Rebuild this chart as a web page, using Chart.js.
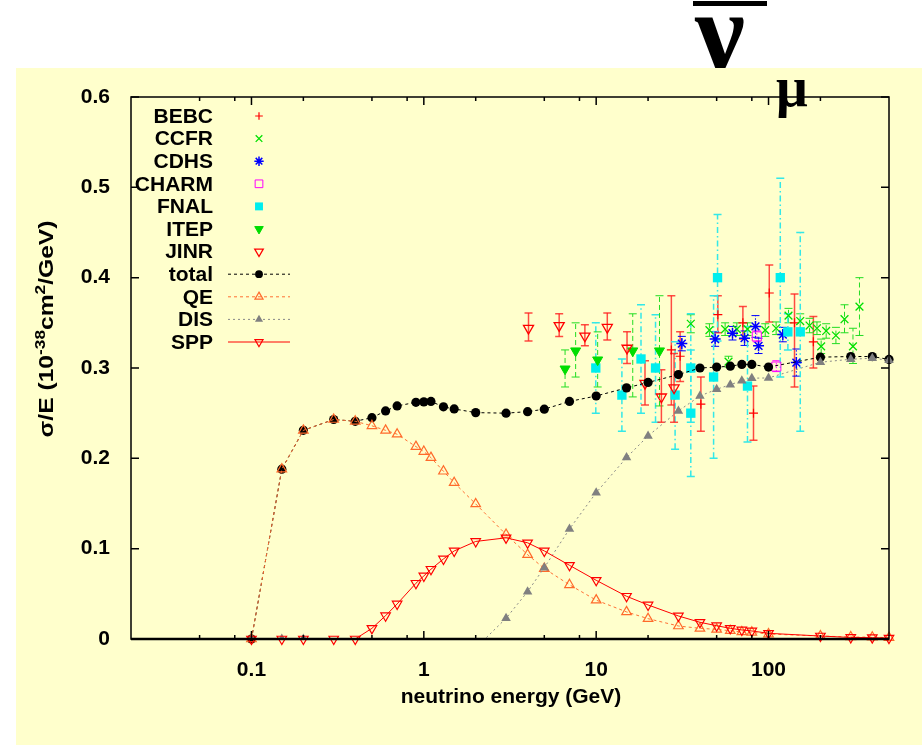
<!DOCTYPE html>
<html><head><meta charset="utf-8">
<script src="https://cdn.jsdelivr.net/npm/chart.js@4/dist/chart.umd.min.js"></script>
<style>html,body{margin:0;padding:0;background:#fff;overflow:hidden}#wrap{width:922px;height:745px}</style>
</head><body><div id="wrap"><canvas id="c" width="922" height="745"></canvas></div>
<script>
// ---------- model curves (sigma/E, 1e-38 cm^2/GeV) ----------
const energyGrid = [0.1,0.15,0.2,0.3,0.4,0.5,0.6,0.7,0.9,1.0,1.1,1.3,1.5,2,3,4,5,7,10,15,20,30,40,50,60,70,80,100,200,300,400,500];
const totalXS = [0,0.188,0.231,0.243,0.241,0.245,0.2525,0.258,0.262,0.2625,0.263,0.257,0.2547,0.2506,0.250,0.2517,0.2544,0.263,0.269,0.278,0.284,0.2927,0.300,0.301,0.302,0.304,0.304,0.301,0.312,0.3127,0.3127,0.3095];
const qeXS = [0,0.188,0.231,0.243,0.241,0.236,0.231,0.2267,0.213,0.2075,0.2008,0.1857,0.173,0.1495,0.1157,0.0934,0.078,0.060,0.043,0.030,0.0225,0.0144,0.0118,0.0107,0.0092,0.0078,0.0074,0.0055,0.0033,0.0022,0.0020,0.0015];
const disXS = [0,0,0,null,null,null,null,null,null,null,null,null,null,-0.01,0.0229,0.0524,0.079,0.1218,0.162,0.2008,0.2248,0.2525,0.269,0.2765,0.2815,0.286,0.2887,0.289,0.3064,0.3097,0.3108,0.3086];
const sppXS = [0,0,0,0,0,0.0118,0.0258,0.0388,0.0617,0.0698,0.0772,0.0886,0.0975,0.108,0.112,0.1065,0.0975,0.0816,0.065,0.0473,0.0377,0.0255,0.0185,0.0147,0.0118,0.0100,0.0089,0.0063,0.0033,0.0017,0.0015,0.0010];

// ---------- experiments: energy, value, error-bar low, error-bar high ----------
const bebcE  = [27.3,30.7,40.5,50.8,71,81.8,101,141.5,182];
const bebcV  = [0.320,0.313,0.260,0.359,0.350,0.250,0.383,0.350,0.329];
const bebcLo = [0.259,0.285,0.230,0.339,0.332,0.220,0.351,0.279,0.300];
const bebcHi = [0.380,0.340,0.290,0.380,0.368,0.280,0.414,0.382,0.357];

const ccfrE  = [35.4,45.4,56,58.6,65.5,75.5,95.7,110.7,130.6,152.7,173,191,202,216,246,276,309,337];
const ccfrV  = [0.349,0.342,0.343,0.307,0.343,0.343,0.342,0.344,0.358,0.352,0.347,0.344,0.324,0.341,0.336,0.354,0.324,0.368];
const ccfrLo = [0.339,0.335,0.336,0.301,0.336,0.336,0.335,0.337,0.350,0.344,0.339,0.337,0.316,0.333,0.327,0.339,0.305,0.336];
const ccfrHi = [0.359,0.349,0.350,0.313,0.350,0.350,0.349,0.351,0.366,0.360,0.355,0.351,0.332,0.349,0.345,0.370,0.344,0.400];

const cdhsE  = [31.4,49,61.8,72.6,84,87.5,121,145];
const cdhsV  = [0.327,0.332,0.3385,0.333,0.346,0.3245,0.337,0.306];
const cdhsLo = [0.319,0.324,0.331,0.325,0.334,0.316,0.329,0.291];
const cdhsHi = [0.335,0.340,0.346,0.341,0.358,0.333,0.345,0.321];

const charmE  = [85.5,111];
const charmV  = [0.335,0.3016];
const charmLo = [0.329,0.296];
const charmHi = [0.341,0.308];

const fnalE  = [9.95,14.1,18.2,22.1,28.7,35.4,35.4,48,50.6,75.5,117,129.5,152.8];
const fnalV  = [0.300,0.270,0.310,0.300,0.270,0.300,0.250,0.290,0.400,0.280,0.400,0.340,0.340];
const fnalLo = [0.250,0.230,0.250,0.240,0.210,0.240,0.180,0.200,0.330,0.218,0.290,0.320,0.230];
const fnalHi = [0.350,0.310,0.370,0.359,0.329,0.360,0.320,0.380,0.470,0.346,0.510,0.360,0.450];

const itepE  = [6.6,7.6,10.2,16.3,23.3];
const itepV  = [0.299,0.319,0.309,0.319,0.319];
const itepLo = [0.279,0.290,0.279,0.268,0.258];
const itepHi = [0.320,0.350,0.340,0.360,0.380];

const jinrE  = [4.05,6.1,8.6,11.6,15.1,19.2,23.9,28.3];
const jinrV  = [0.344,0.347,0.3355,0.345,0.322,0.283,0.268,0.278];
const jinrLo = [0.330,0.335,0.3245,0.331,0.305,0.259,0.240,0.240];
const jinrHi = [0.361,0.360,0.348,0.361,0.340,0.308,0.298,0.316];

// ---------- axis ticks ----------
const xMajorTicks = [0.1,1,10,100];
const xMajorLabels = ['0.1','1','10','100'];
const xMinorTicks = [0.05,0.08,0.2,0.5,0.8,2,5,8,20,50,80,200];
const yTickValues = [0,0.1,0.2,0.3,0.4,0.5,0.6];
const yTickLabels = ['0','0.1','0.2','0.3','0.4','0.5','0.6'];

const xTitle = 'neutrino energy (GeV)';
const yTitleParts = [['σ/E (10',0],['-38',1],['cm',0],['2',1],['/GeV)',0]];

const FONT = '"Liberation Sans", Arial, sans-serif';

function pts(E, V){ return E.map((e,i)=>({x:e,y:V[i]})); }

function expSet(label, E, V, Lo, Hi, o){
  return Object.assign({
    label, type:'line', showLine:false, data:pts(E,V), errLo:Lo, errHi:Hi,
    pointRadius:5, pointHoverRadius:5, pointBorderWidth:1.2
  }, o);
}
function modelSet(label, V, o){
  return Object.assign({
    label, type:'line', data:pts(energyGrid,V), spanGaps:false, tension:0,
    borderWidth:1, pointRadius:5, pointHoverRadius:5, pointBorderWidth:1.2, clip:{left:8,right:8,top:8,bottom:8}
  }, o);
}

const datasets = [
  expSet('BEBC', bebcE, bebcV, bebcLo, bebcHi, {order:10, pointStyle:'cross', pointRadius:4.5, pointBorderColor:'#ff0000', pointBackgroundColor:'#ff0000', errColor:'rgba(255,30,30,0.8)', errDash:[], errWidth:1.5}),
  expSet('CCFR', ccfrE, ccfrV, ccfrLo, ccfrHi, {order:9, pointStyle:'crossRot', pointRadius:5.5, pointBorderWidth:1.3, pointBorderColor:'#00e000', pointBackgroundColor:'#00e000', errColor:'#22dd22', errDash:[5,3], errWidth:1}),
  expSet('CDHS', cdhsE, cdhsV, cdhsLo, cdhsHi, {order:8, pointStyle:'star', pointRadius:5.5, pointBorderWidth:1.5, pointBorderColor:'#0000ff', pointBackgroundColor:'#0000ff', errColor:'#0000ff', errDash:[1.5,2], errWidth:1}),
  expSet('CHARM', charmE, charmV, charmLo, charmHi, {order:7, pointStyle:'rect', pointRadius:6.4, pointBorderWidth:1, pointBorderColor:'#ff00ff', pointBackgroundColor:'rgba(0,0,0,0)', errColor:'#ff00ff', errDash:[1.5,2], errWidth:1}),
  expSet('FNAL', fnalE, fnalV, fnalLo, fnalHi, {order:6, pointStyle:'rect', pointRadius:6.6, pointBorderWidth:0, pointBorderColor:'#00eeee', pointBackgroundColor:'#00eeee', errColor:'#33e8e8', errDash:[6,3,1.5,3], errWidth:1.5}),
  expSet('ITEP', itepE, itepV, itepLo, itepHi, {order:5, pointStyle:'triangle', pointRotation:180, pointRadius:5.8, pointBorderWidth:1, pointBorderColor:'#00dd00', pointBackgroundColor:'#00dd00', errColor:'#22dd22', errDash:[5,3], errWidth:1}),
  expSet('JINR', jinrE, jinrV, jinrLo, jinrHi, {order:4, pointStyle:'triangle', pointRotation:180, pointRadius:5.8, pointBorderWidth:1.3, pointBorderColor:'#ff0000', pointBackgroundColor:'rgba(0,0,0,0)', errColor:'rgba(255,30,30,0.8)', errDash:[], errWidth:1.5}),
  modelSet('total', totalXS, {order:3, borderColor:'#000', borderDash:[3,3], pointStyle:'circle', pointRadius:4.6, pointBorderWidth:0, pointBorderColor:'#000', pointBackgroundColor:'#000'}),
  modelSet('QE', qeXS, {order:2, borderColor:'#ff7033', borderDash:[3,3], pointStyle:'triangle', pointRadius:5.5, pointBorderColor:'#ff6a2a', pointBackgroundColor:'rgba(0,0,0,0)'}),
  modelSet('DIS', disXS, {order:1, borderColor:'#888888', borderDash:[2,3], pointStyle:'triangle', pointRadius:5.5, pointBorderWidth:0, pointBorderColor:'#808080', pointBackgroundColor:'#808080', clip:{left:8,right:8,top:8,bottom:0.5}}),
  modelSet('SPP', sppXS, {order:0, borderColor:'#ff0000', pointStyle:'triangle', pointRotation:180, pointRadius:5.5, pointBorderColor:'#ff0000', pointBackgroundColor:'rgba(0,0,0,0)'})
];

const paintPlugin = {
  id:'paint',
  beforeDraw(chart){
    const ctx = chart.ctx;
    ctx.save();
    ctx.fillStyle = '#ffffff';
    ctx.fillRect(0,0,chart.width,chart.height);
    // big nu-bar above the panel
    ctx.fillStyle = '#000';
    ctx.font = 'bold 112px "Liberation Serif", "DejaVu Serif", serif';
    ctx.textAlign = 'center';
    ctx.textBaseline = 'alphabetic';
    ctx.fillText('ν', 720, 69);
    ctx.fillRect(693, 1, 74, 5);
    // yellow panel
    ctx.fillStyle = '#ffffcc';
    ctx.fillRect(16, 68, chart.width-16, chart.height-68);
    ctx.restore();
  },
  beforeDatasetsDraw(chart){
    const ctx = chart.ctx, xs = chart.scales.x, ys = chart.scales.y;
    ctx.save();
    chart.data.datasets.forEach(ds=>{
      if(!ds.errLo) return;
      ctx.strokeStyle = ds.errColor;
      ctx.lineWidth = ds.errWidth;
      ds.data.forEach((p,i)=>{
        const px = xs.getPixelForValue(p.x);
        const y1 = ys.getPixelForValue(ds.errLo[i]);
        const y2 = ys.getPixelForValue(ds.errHi[i]);
        ctx.setLineDash(ds.errDash);
        ctx.beginPath(); ctx.moveTo(px,y1); ctx.lineTo(px,y2); ctx.stroke();
        ctx.setLineDash([]);
        ctx.beginPath();
        ctx.moveTo(px-4,y1); ctx.lineTo(px+4,y1);
        ctx.moveTo(px-4,y2); ctx.lineTo(px+4,y2);
        ctx.stroke();
      });
    });
    ctx.restore();
  },
  afterDraw(chart){
    const ctx = chart.ctx, xs = chart.scales.x, ys = chart.scales.y, a = chart.chartArea;
    ctx.save();
    // frame
    ctx.strokeStyle = '#000';
    ctx.lineWidth = 1.5;
    ctx.setLineDash([]);
    ctx.strokeRect(a.left, a.top, a.right-a.left, a.bottom-a.top);
    ctx.lineWidth = 2.5;
    ctx.beginPath(); ctx.moveTo(a.left, a.bottom); ctx.lineTo(a.right, a.bottom); ctx.stroke();
    // ticks (inward, mirrored)
    ctx.lineWidth = 1.5;
    ctx.beginPath();
    xMajorTicks.forEach(v=>{const p = xs.getPixelForValue(v); ctx.moveTo(p,a.bottom); ctx.lineTo(p,a.bottom-8); ctx.moveTo(p,a.top); ctx.lineTo(p,a.top+8);});
    xMinorTicks.forEach(v=>{const p = xs.getPixelForValue(v); ctx.moveTo(p,a.bottom); ctx.lineTo(p,a.bottom-4); ctx.moveTo(p,a.top); ctx.lineTo(p,a.top+4);});
    yTickValues.forEach(v=>{const p = ys.getPixelForValue(v); ctx.moveTo(a.left,p); ctx.lineTo(a.left+8,p); ctx.moveTo(a.right,p); ctx.lineTo(a.right-8,p);});
    ctx.stroke();

    // x title
    ctx.fillStyle = '#000';
    ctx.font = 'bold 21px ' + FONT;
    ctx.textAlign = 'center';
    ctx.textBaseline = 'middle';
    ctx.fillText(xTitle, 511, 697);

    // y title (rotated, with superscripts)
    const big = 'bold 20px ' + FONT, small = 'bold 14px ' + FONT;
    let W = 0;
    yTitleParts.forEach(([t,s])=>{ ctx.font = s?small:big; W += ctx.measureText(t).width; });
    ctx.save();
    ctx.translate(53, 329);
    ctx.rotate(-Math.PI/2);
    const sx = 217 / W;
    ctx.scale(sx, 1);
    ctx.textAlign = 'left';
    ctx.textBaseline = 'alphabetic';
    let cx = -W/2;
    yTitleParts.forEach(([t,s])=>{
      ctx.font = s?small:big;
      ctx.fillText(t, cx, s ? -8 : 0);
      cx += ctx.measureText(t).width;
    });
    ctx.restore();

    // mu subscript
    ctx.font = 'bold 56px "Liberation Serif", "DejaVu Serif", serif';
    ctx.textAlign = 'left';
    ctx.textBaseline = 'alphabetic';
    ctx.fillText('μ', 776, 106);

    // key
    const rowY0 = 116, rowStep = 22.6;
    chart.data.datasets.forEach((ds,i)=>{
      const y = rowY0 + i*rowStep;
      ctx.fillStyle = '#000';
      ctx.font = 'bold 21px ' + FONT;
      ctx.textAlign = 'right';
      ctx.textBaseline = 'middle';
      ctx.fillText(ds.label, 213, y+1);
      if (ds.showLine !== false) {
        ctx.strokeStyle = ds.borderColor;
        ctx.lineWidth = 1;
        ctx.setLineDash(ds.borderDash || []);
        ctx.beginPath(); ctx.moveTo(228, y); ctx.lineTo(290, y); ctx.stroke();
        ctx.setLineDash([]);
      }
      ctx.fillStyle = ds.pointBackgroundColor;
      ctx.strokeStyle = ds.pointBorderColor;
      ctx.lineWidth = ds.pointBorderWidth;
      Chart.helpers.drawPoint(ctx, {pointStyle: ds.pointStyle, radius: ds.pointRadius*0.85, rotation: ds.pointRotation||0, borderWidth: ds.pointBorderWidth}, 259, y);
    });
    ctx.restore();
  }
};

new Chart(document.getElementById('c'), {
  type:'line',
  data:{datasets},
  options:{
    responsive:false, animation:false, devicePixelRatio:1,
    layout:{padding:{top:97,right:33,left:0,bottom:0}},
    plugins:{legend:{display:false}, tooltip:{enabled:false}},
    events:[],
    scales:{
      x:{
        type:'logarithmic', min:0.02, max:500, position:'bottom',
        grid:{display:false}, border:{display:false},
        afterBuildTicks:(s)=>{ s.ticks = xMajorTicks.map(v=>({value:v})); },
        afterFit:(s)=>{ s.height = 106; },
        ticks:{autoSkip:false, maxRotation:0, padding:11, color:'#000',
          font:{family:FONT, size:21, weight:'bold'},
          callback:(v)=>{ const i = xMajorTicks.indexOf(v); return i>=0 ? xMajorLabels[i] : ''; }}
      },
      y:{
        type:'linear', min:0, max:0.6,
        grid:{display:false}, border:{display:false},
        afterBuildTicks:(s)=>{ s.ticks = yTickValues.map(v=>({value:v})); },
        afterFit:(s)=>{ s.width = 131; },
        ticks:{padding:13, color:'#000', font:{family:FONT, size:21, weight:'bold'},
          callback:(v)=>{ const i = yTickValues.findIndex(t=>Math.abs(t-v)<1e-9); return i>=0 ? yTickLabels[i] : ''; }}
      }
    }
  },
  plugins:[paintPlugin]
});
</script></body></html>
